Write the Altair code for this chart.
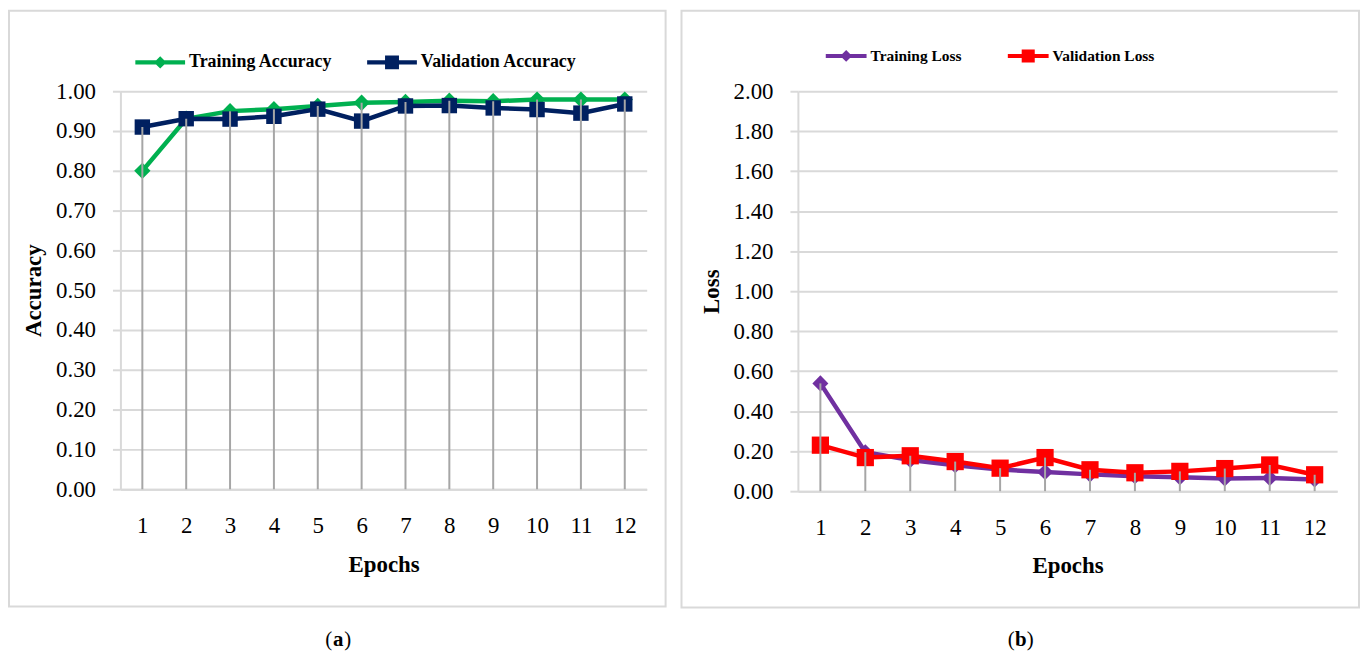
import altair as alt
import pandas as pd

# ---------------- data ----------------
epochs = [1, 2, 3, 4, 5, 6, 7, 8, 9, 10, 11, 12]

train_acc = [0.800, 0.931, 0.950, 0.955, 0.963, 0.971, 0.973, 0.976, 0.975, 0.979, 0.979, 0.979]
val_acc = [0.910, 0.931, 0.930, 0.937, 0.955, 0.925, 0.963, 0.964, 0.958, 0.954, 0.945, 0.968]

train_loss = [0.539, 0.195, 0.156, 0.130, 0.108, 0.096, 0.084, 0.075, 0.070, 0.063, 0.066, 0.058]
val_loss = [0.230, 0.168, 0.177, 0.148, 0.115, 0.168, 0.107, 0.092, 0.099, 0.113, 0.131, 0.082]

acc_series = ["Training Accuracy", "Validation Accuracy"]
loss_series = ["Training Loss", "Validation Loss"]
acc_colors = ["#00b050", "#002060"]
loss_colors = ["#7030a0", "#ff0000"]
marker_shapes = ["diamond", "square"]

acc_ticks = [0.0, 0.1, 0.2, 0.3, 0.4, 0.5, 0.6, 0.7, 0.8, 0.9, 1.0]
loss_ticks = [0.0, 0.2, 0.4, 0.6, 0.8, 1.0, 1.2, 1.4, 1.6, 1.8, 2.0]

FONT = "Liberation Serif"
GRID = "#d9d9d9"
DROP = "#a6a6a6"


def long_frame(series, first, second):
    rows = []
    for name, vals in zip(series, [first, second]):
        for e, v in zip(epochs, vals):
            rows.append({"Epoch": e, "Series": name, "Value": v})
    return pd.DataFrame(rows)


def legend_paths(half_line, diamond_half, square_half):
    bar = f"M-1,-{half_line}L1,-{half_line}L1,{half_line}L-1,{half_line}Z"
    dia = f"M0,-{diamond_half}L{diamond_half},0L0,{diamond_half}L-{diamond_half},0Z"
    sq = (f"M-{square_half},-{square_half}L{square_half},-{square_half}"
          f"L{square_half},{square_half}L-{square_half},{square_half}Z")
    return [bar + " " + dia, bar + " " + sq]


def panel(df, series, colors, sizes, y_title, y_ticks, y_max, w, h, geo, caption):
    paths = legend_paths(*geo["paths"])

    x = alt.X(
        "Epoch:O",
        scale=alt.Scale(type="point", padding=0.5),
        axis=alt.Axis(
            title="Epochs",
            labelAngle=0,
            labelFont=FONT,
            labelFontSize=23,
            labelColor="#000000",
            labelPadding=26,
            ticks=False,
            tickSize=0,
            grid=False,
            domainColor=GRID,
            domainWidth=2,
            titleFont=FONT,
            titleFontSize=23,
            titleFontWeight="bold",
            titleColor="#000000",
            titleX=w / 2,
            titleY=geo["xTitleY"],
            titleAlign="center",
            titleBaseline="middle",
        ),
    )
    y = alt.Y(
        "Value:Q",
        scale=alt.Scale(domain=[0, y_max], nice=False, zero=True),
        axis=alt.Axis(
            title=y_title,
            values=y_ticks,
            format=".2f",
            labelFont=FONT,
            labelFontSize=23,
            labelColor="#000000",
            labelPadding=17,
            tickSize=8,
            tickColor=GRID,
            tickWidth=2,
            grid=True,
            gridColor=GRID,
            gridWidth=2,
            domainColor=GRID,
            domainWidth=2,
            titleFont=FONT,
            titleFontSize=23,
            titleFontWeight="bold",
            titleColor="#000000",
            titleX=-87,
            titleY=h / 2,
            titleAngle=270,
            titleAlign="center",
            titleBaseline="middle",
        ),
    )

    base = alt.Chart(df)
    layers = []
    for i, name in enumerate(series):
        sub = base.transform_filter(alt.datum.Series == name)
        layers.append(
            sub.mark_line(strokeWidth=4.5, color=colors[i]).encode(x=x, y=y)
        )
        legend = alt.Legend(
            title=None,
            orient="none",
            direction="horizontal",
            legendX=geo["legendX"][i],
            legendY=geo["legendY"],
            labelFont=FONT,
            labelFontSize=geo["legendFont"],
            labelFontWeight="bold",
            labelColor="#000000",
            labelOffset=4,
            symbolType=paths[i],
            symbolSize=geo["symbolSize"],
            symbolStrokeWidth=0,
            symbolOpacity=1,
            padding=0,
        )
        layers.append(
            sub.mark_point(filled=True, opacity=1, shape=marker_shapes[i], size=sizes[i]).encode(
                x=x,
                y=y,
                color=alt.Color(
                    "Series:N",
                    scale=alt.Scale(domain=[name], range=[colors[i]]),
                    legend=legend,
                ),
            )
        )

    drops = base.transform_aggregate(
        Value="max(Value)", groupby=["Epoch"]
    ).mark_rule(color=DROP, strokeWidth=2).encode(
        x=x, y=y, y2=alt.datum(0)
    )

    one = pd.DataFrame({"k": [0]})
    b = geo["border"]
    border = alt.Chart(one).mark_rect(
        fillOpacity=0, stroke=GRID, strokeWidth=2
    ).encode(
        x=alt.value(b[0]), x2=alt.value(b[1]), y=alt.value(b[2]), y2=alt.value(b[3])
    )
    cx, cy = geo["caption"]
    cap_l = alt.Chart(one).mark_text(
        text="(", align="right", baseline="middle", font=FONT, fontSize=21, color="#000000"
    ).encode(x=alt.value(cx - 6), y=alt.value(cy))
    cap_m = alt.Chart(one).mark_text(
        text=caption, align="center", baseline="middle", font=FONT, fontSize=21,
        fontWeight="bold", color="#000000"
    ).encode(x=alt.value(cx), y=alt.value(cy))
    cap_r = alt.Chart(one).mark_text(
        text=")", align="left", baseline="middle", font=FONT, fontSize=21, color="#000000"
    ).encode(x=alt.value(cx + 6), y=alt.value(cy))

    return alt.layer(*layers, drops, border, cap_l, cap_m, cap_r).resolve_scale(
        color="independent"
    ).properties(width=w, height=h)


acc_df = long_frame(acc_series, train_acc, val_acc)
loss_df = long_frame(loss_series, train_loss, val_loss)

left = panel(
    acc_df, acc_series, acc_colors, [270, 240], "Accuracy", acc_ticks, 1.0, 529, 400,
    {
        "paths": (0.09, 0.25, 0.28),
        "symbolSize": 2500,
        "legendX": [15, 248],
        "legendY": -54,
        "legendFont": 18,
        "xTitleY": 76,
        "border": (-112, 548, -81, 518),
        "caption": (219, 552),
    },
    "a",
)

right = panel(
    loss_df, loss_series, loss_colors, [260, 300], "Loss", loss_ticks, 2.0, 542, 402,
    {
        "paths": (0.1, 0.29, 0.32),
        "symbolSize": 1681,
        "legendX": [28, 211],
        "legendY": -56,
        "legendFont": 15.5,
        "xTitleY": 75,
        "border": (-117, 564, -81, 519),
        "caption": (224, 552),
    },
    "b",
)

chart = alt.hconcat(left, right, spacing=14).resolve_scale(
    color="independent"
).properties(padding=0).configure(font=FONT).configure_view(strokeWidth=0)

chart.save("out.html", embed_options={"renderer": "svg", "actions": False})
